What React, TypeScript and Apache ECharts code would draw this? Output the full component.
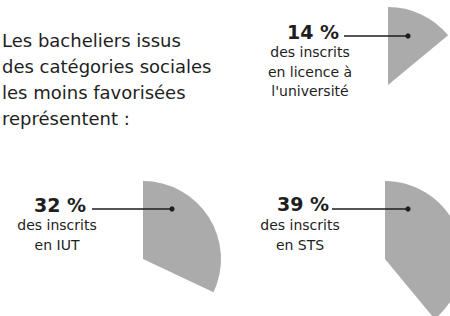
import React, { useEffect, useRef } from "react";
import * as echarts from "echarts";

const introLines = ["Les bacheliers issus", "des catégories sociales", "les moins favorisées", "représentent :"];
const shares = [14, 32, 39];
const captions = [
  ["des inscrits", "en licence à", "l'université"],
  ["des inscrits", "en IUT"],
  ["des inscrits", "en STS"],
];

const FILL = "#ababab";
const INK = "#1e1e1e";
const FONT = "'DejaVu Sans', 'Noto Sans', sans-serif";

// layout per pie: center, dot, line start, label center
const layout = [
  { c: [388, 85], dot: [408, 36], lx: 344, tx: 313, ty: 32, sx: 310, sy: 52 },
  { c: [143, 259], dot: [172, 209], lx: 92, tx: 60, ty: 205, sx: 57, sy: 225 },
  { c: [385, 259], dot: [408, 209], lx: 332, tx: 303, ty: 204, sx: 300, sy: 225 },
];

export default function App() {
  const ref = useRef<HTMLDivElement>(null);
  useEffect(() => {
    document.body.style.margin = "0";
    const chart = echarts.init(ref.current!, null, { renderer: "svg" });
    const series: any[] = shares.map((v, i) => ({
      type: "pie",
      center: layout[i].c,
      radius: [0, 78],
      startAngle: 90,
      clockwise: true,
      silent: true,
      label: { show: false },
      labelLine: { show: false },
      data: [
        { value: v, name: "share" + i, itemStyle: { color: FILL } },
        { value: 100 - v, name: "rest" + i, itemStyle: { color: "rgba(0,0,0,0)" } },
      ],
    }));
    const graphic: any[] = [];
    introLines.forEach((t, i) => {
      graphic.push({
        type: "text",
        x: 2,
        y: 40 + i * 26.3,
        style: { text: t, font: `18px ${FONT}`, fill: INK, verticalAlign: "middle" },
      });
    });
    shares.forEach((v, i) => {
      const L = layout[i];
      graphic.push({
        type: "line",
        shape: { x1: L.lx, y1: L.dot[1], x2: L.dot[0], y2: L.dot[1] },
        style: { stroke: INK, lineWidth: 1.3 },
        z: 10,
      });
      graphic.push({
        type: "circle",
        shape: { cx: L.dot[0], cy: L.dot[1], r: 2.6 },
        style: { fill: INK },
        z: 10,
      });
      graphic.push({
        type: "text",
        x: L.tx,
        y: L.ty,
        style: { text: `${v} %`, font: `bold 19px ${FONT}`, fill: INK, align: "center", verticalAlign: "middle" },
        z: 10,
      });
      captions[i].forEach((t, j) => {
        graphic.push({
          type: "text",
          x: L.sx,
          y: L.sy + j * 19.5,
          style: { text: t, font: `14px ${FONT}`, fill: INK, align: "center", verticalAlign: "middle" },
          z: 10,
        });
      });
    });
    chart.setOption({ animation: false, series, graphic });
    return () => chart.dispose();
  }, []);
  return <div ref={ref} style={{ width: 450, height: 316 }} />;
}
